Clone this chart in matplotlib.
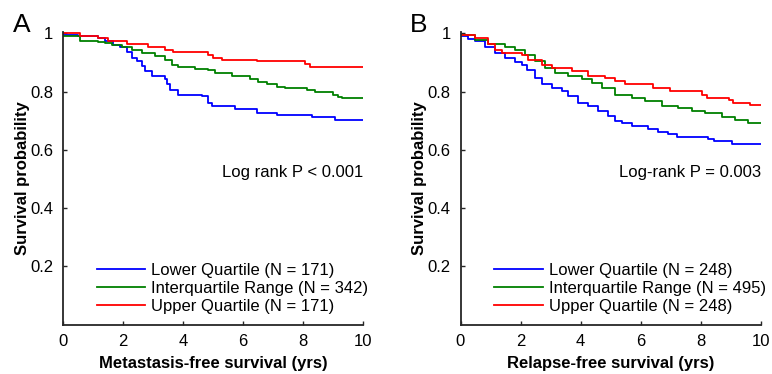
import matplotlib
matplotlib.use('Agg')
import matplotlib.pyplot as plt

plt.rcParams['font.family'] = ['Liberation Sans', 'DejaVu Sans']
plt.rcParams['font.size'] = 12

# panel A: metastasis-free survival
a_low_t = [0, 0.5, 1.18, 1.4, 1.68, 1.9, 2.12, 2.29, 2.46, 2.62, 2.73, 2.96, 3.4, 3.46, 3.57,
           3.84, 4.62, 4.84, 4.96, 5.73, 6.46, 7.13, 8.29, 9.07, 10]
a_low_s = [0.995, 0.99, 0.984, 0.973, 0.962, 0.955, 0.938, 0.916, 0.904, 0.887, 0.870, 0.853, 0.842,
           0.825, 0.807, 0.790, 0.785, 0.762, 0.750, 0.739, 0.725, 0.719, 0.714, 0.703, 0.703]
a_mid_t = [0, 0.57, 1.18, 1.4, 1.63, 1.96, 2.29, 2.62, 3.07, 3.4, 3.62, 3.84, 4.4, 4.84, 5.07, 5.62,
           6.23, 6.51, 6.8, 7.13, 7.4, 8.12, 8.4, 9.01, 9.18, 9.29, 10]
a_mid_s = [0.991, 0.975, 0.970, 0.967, 0.961, 0.952, 0.942, 0.933, 0.921, 0.910, 0.893, 0.884, 0.879,
           0.876, 0.864, 0.855, 0.842, 0.832, 0.825, 0.816, 0.812, 0.805, 0.798, 0.790, 0.782, 0.777, 0.777]
a_up_t = [0, 0.57, 1.18, 1.51, 2.12, 2.84, 3.4, 3.68, 4.84, 5.0, 5.29, 6.46, 8.07, 8.23, 10]
a_up_s = [1.0, 0.992, 0.983, 0.973, 0.965, 0.955, 0.942, 0.935, 0.926, 0.916, 0.910, 0.904, 0.895,
          0.884, 0.884]

# panel B: relapse-free survival
b_low_t = [0, 0.26, 0.48, 0.82, 1.15, 1.48, 1.81, 2.04, 2.2, 2.48, 2.7, 3.03, 3.37, 3.59, 3.92, 4.25,
           4.59, 4.92, 5.14, 5.36, 5.7, 6.25, 6.58, 6.92, 7.2, 8.25, 8.42, 9.03, 10]
b_low_s = [0.990, 0.981, 0.973, 0.955, 0.933, 0.916, 0.901, 0.893, 0.876, 0.847, 0.825, 0.813, 0.802,
           0.785, 0.762, 0.751, 0.733, 0.716, 0.699, 0.693, 0.682, 0.670, 0.661, 0.653, 0.645, 0.639,
           0.630, 0.619, 0.619]
b_mid_t = [0, 0.48, 0.93, 1.48, 1.81, 2.15, 2.48, 2.81, 3.15, 3.59, 4.03, 4.37, 4.7, 5.14, 5.7, 6.14,
           6.7, 7.25, 7.69, 8.14, 8.7, 9.14, 9.58, 10]
b_mid_s = [0.995, 0.978, 0.964, 0.955, 0.944, 0.927, 0.904, 0.881, 0.864, 0.853, 0.842, 0.830, 0.813,
           0.790, 0.779, 0.768, 0.751, 0.745, 0.733, 0.725, 0.714, 0.702, 0.691, 0.691]
b_up_t = [0, 0.48, 0.93, 1.15, 1.37, 2.04, 2.26, 2.7, 3.03, 3.7, 4.25, 4.81, 5.14, 5.47, 6.42, 6.97,
          8.03, 8.2, 8.92, 9.08, 9.64, 10]
b_up_s = [0.996, 0.984, 0.964, 0.944, 0.933, 0.927, 0.910, 0.893, 0.881, 0.870, 0.853, 0.847, 0.836,
          0.828, 0.813, 0.802, 0.790, 0.779, 0.773, 0.762, 0.753, 0.753]

a_labels = ['Lower Quartile (N = 171)', 'Interquartile Range (N = 342)', 'Upper Quartile (N = 171)']
b_labels = ['Lower Quartile (N = 248)', 'Interquartile Range (N = 495)', 'Upper Quartile (N = 248)']
colors = ['#0000ff', '#008000', '#ff0000']

fig = plt.figure(figsize=(7.72, 3.74), dpi=100)
axA = fig.add_axes([63/772, 49.5/374, 300/772, 292.5/374])
axB = fig.add_axes([460.5/772, 49.5/374, 300.5/772, 292.5/374])

panels = [
    (axA, [(a_low_t, a_low_s), (a_mid_t, a_mid_s), (a_up_t, a_up_s)], a_labels,
     'Log rank P < 0.001', 'Metastasis-free survival (yrs)', 'A'),
    (axB, [(b_low_t, b_low_s), (b_mid_t, b_mid_s), (b_up_t, b_up_s)], b_labels,
     'Log-rank P = 0.003', 'Relapse-free survival (yrs)', 'B'),
]

for ax, curves, labels, ptext, xlab, letter in panels:
    for (t, s), lab, c in zip(curves, labels, colors):
        ax.plot(t, s, drawstyle='steps-post', color=c, lw=1.3, label=lab)
    ax.set_xlim(0, 10)
    ax.set_ylim(0, 1.005)
    ax.set_xticks([0, 2, 4, 6, 8, 10])
    ax.set_yticks([0.2, 0.4, 0.6, 0.8, 1.0])
    ax.set_yticklabels(['0.2', '0.4', '0.6', '0.8', '1'])
    ax.spines['top'].set_visible(False)
    ax.spines['right'].set_visible(False)
    for sp in ['left', 'bottom']:
        ax.spines[sp].set_linewidth(1.3)
        ax.spines[sp].set_color('#262626')
    ax.tick_params(direction='in', length=3, width=1, colors='#262626', labelcolor='black',
                   labelsize=12, pad=7)
    ax.set_xlabel(xlab, fontweight='bold', fontsize=12)
    ax.set_ylabel('Survival probability', fontweight='bold', fontsize=12)
    ax.xaxis.set_label_coords(0.5, -0.108)
    ax.yaxis.set_label_coords(-0.11, 0.5)
    ax.text(1.0, 0.521, ptext, transform=ax.transAxes, ha='right', va='center', fontsize=12)
    ax.legend(loc='lower left', bbox_to_anchor=(0.113, 0.035), frameon=False, fontsize=12,
              handlelength=2.9, handletextpad=0.35, labelspacing=0.2, borderpad=0,
              borderaxespad=0)
    ax.text(-0.167, 1.0, letter, transform=ax.transAxes, fontsize=19, va='baseline')

fig.savefig('out.png', dpi=100)
